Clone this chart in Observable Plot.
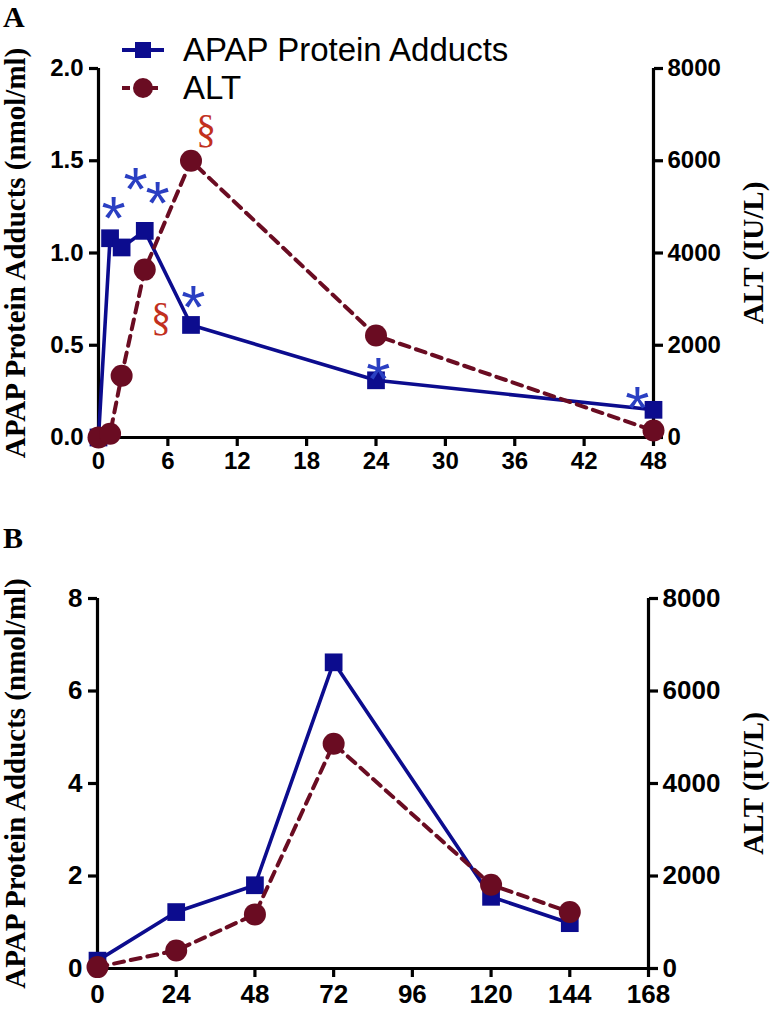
<!DOCTYPE html>
<html><head><meta charset="utf-8">
<script src="https://cdn.jsdelivr.net/npm/d3@7"></script>
<script src="https://cdn.jsdelivr.net/npm/@observablehq/plot@0.6"></script>
<style>
body{margin:0;background:#fff;}
#wrap{position:relative;width:774px;height:1010px;overflow:hidden;background:#fff;}
.plotbox{position:absolute;left:0;}
.panel{position:absolute;left:3px;font:bold 30px "Liberation Serif";line-height:1;}
.leg{position:absolute;left:121px;height:36px;font:33px "Liberation Sans";color:#000;display:flex;align-items:center;}
.leg svg{margin-right:18px;}
</style></head>
<body><div id="wrap"></div>
<script>
// ---------- Panel A data (hours post-dose) ----------
const timeA = [0, 1, 2, 4, 8, 24, 48];
const adductsA = [0.0, 1.08, 1.03, 1.12, 0.61, 0.31, 0.15];   // nmol/ml
const altA = [0, 80, 1340, 3640, 6000, 2210, 150];             // IU/L
const xTicksA = [0, 6, 12, 18, 24, 30, 36, 42, 48];
const yTicksA = [0, 0.5, 1.0, 1.5, 2.0];
const altTicksA = [0, 2000, 4000, 6000, 8000];
// significance marks (panel A)
const starTimeA = [1.3, 3.2, 5.1, 8.2, 24.2, 46.6];
const starValA = [1.28, 1.44, 1.36, 0.80, 0.41, 0.25];
const sectTimeA = [9.3, 5.4];
const sectValA = [1.67, 0.65];

// ---------- Panel B data ----------
const timeB = [0, 24, 48, 72, 120, 144];
const adductsB = [0.17, 1.22, 1.80, 6.62, 1.55, 0.98];
const altB = [30, 390, 1170, 4860, 1810, 1220];
const xTicksB = [0, 24, 48, 72, 96, 120, 144, 168];
const yTicksB = [0, 2, 4, 6, 8];
const altTicksB = [0, 2000, 4000, 6000, 8000];

const seriesNames = ["APAP Protein Adducts", "ALT"];
const yLabel = "APAP Protein Adducts (nmol/ml)";
const altLabel = "ALT (IU/L)";

const BLUE = "#0c0c8e", MAROON = "#6a0c22", STAR = "#2a3fc2", SECT = "#c2301e";
const SANS = "Liberation Sans", SERIF = "Liberation Serif";

function makePanel(o) {
  const adductRows = o.time.map((t, i) => ({t, v: o.adducts[i]}));
  const altRows = o.time.map((t, i) => ({t, v: o.alt[i] / o.altPerUnit}));
  const xMax = o.xTicks[o.xTicks.length - 1];
  const yMax = o.yTicks[o.yTicks.length - 1];
  const marks = [
    Plot.ruleX([0, xMax], {y1: 0, y2: yMax, stroke: "#000", strokeWidth: 3.2}),
    Plot.ruleY([0], {x1: 0, x2: xMax, stroke: "#000", strokeWidth: 3.2}),
    Plot.axisY({anchor: "left", ticks: o.yTicks, tickSize: 9, tickPadding: 6, strokeWidth: 3.2,
      fontSize: o.tickFont, fontWeight: "bold", fontFamily: SANS, fill: "#000",
      tickFormat: o.yFmt, label: null}),
    Plot.axisY({anchor: "right", ticks: o.yTicks, tickSize: 9, tickPadding: 5, strokeWidth: 3.2,
      fontSize: o.tickFont, fontWeight: "bold", fontFamily: SANS, fill: "#000",
      tickFormat: (d) => String(o.altTicks[o.yTicks.indexOf(d)]), label: null}),
    Plot.axisX({ticks: o.xTicks, tickSize: 9, tickPadding: o.xPad, strokeWidth: 3.2,
      fontSize: o.tickFont, fontWeight: "bold", fontFamily: SANS, fill: "#000", label: null}),
    Plot.axisY({anchor: "left", ticks: [], tickSize: 0, label: yLabel, labelAnchor: "center",
      labelArrow: "none", labelOffset: o.mL - 4, fontFamily: SERIF, fontWeight: "bold", fontSize: 29, fill: "#000"}),
    Plot.axisY({anchor: "right", ticks: [], tickSize: 0, label: altLabel, labelAnchor: "center",
      labelArrow: "none", labelOffset: o.mR - 12, fontFamily: SERIF, fontWeight: "bold", fontSize: 29, fill: "#000"}),
    Plot.line(adductRows, {x: "t", y: "v", stroke: BLUE, strokeWidth: 3.6}),
    Plot.dot(adductRows, {x: "t", y: "v", symbol: "square", r: 10, fill: BLUE, stroke: "none"}),
    Plot.line(altRows, {x: "t", y: "v", stroke: MAROON, strokeWidth: 4, strokeDasharray: "10,7"}),
    Plot.dot(altRows, {x: "t", y: "v", symbol: "circle", r: 11, fill: MAROON, stroke: "none"})
  ];
  if (o.stars) marks.push(Plot.text(o.stars, {x: "t", y: "v", text: () => "*", fill: STAR,
    fontSize: 62, fontFamily: SANS, dy: 18}));
  if (o.sects) marks.push(Plot.text(o.sects, {x: "t", y: "v", text: () => "§", fill: SECT,
    fontSize: 40, fontFamily: SERIF}));
  return Plot.plot({
    width: 774, height: o.height,
    marginLeft: o.mL, marginRight: o.mR, marginTop: o.mT, marginBottom: o.mB,
    x: {domain: [0, xMax]},
    y: {domain: [0, yMax]},
    style: {background: "transparent", overflow: "visible"},
    marks
  });
}

const wrap = document.getElementById("wrap");

const starsA = starTimeA.map((t, i) => ({t, v: starValA[i]}));
const sectsA = sectTimeA.map((t, i) => ({t, v: sectValA[i]}));

const pA = makePanel({time: timeA, adducts: adductsA, alt: altA, altPerUnit: 4000,
  xTicks: xTicksA, yTicks: yTicksA, altTicks: altTicksA, yFmt: d => d.toFixed(1),
  height: 480, mL: 98, mR: 121, mT: 68, mB: 43, tickFont: 24, xPad: 5, stars: starsA, sects: sectsA});
const boxA = document.createElement("div");
boxA.className = "plotbox"; boxA.style.top = "0px";
boxA.appendChild(pA); wrap.appendChild(boxA);

const pB = makePanel({time: timeB, adducts: adductsB, alt: altB, altPerUnit: 1000,
  xTicks: xTicksB, yTicks: yTicksB, altTicks: altTicksB, yFmt: d => String(d),
  height: 510, mL: 97, mR: 126, mT: 98, mB: 42, tickFont: 26, xPad: 7});
const boxB = document.createElement("div");
boxB.className = "plotbox"; boxB.style.top = "500px";
boxB.appendChild(pB); wrap.appendChild(boxB);

// panel letters
for (const [letter, top] of [["A", 2], ["B", 523]]) {
  const d = document.createElement("div");
  d.className = "panel"; d.style.top = top + "px"; d.textContent = letter;
  wrap.appendChild(d);
}

// legend
const legendDefs = [
  {name: seriesNames[0], color: BLUE, dash: null, shape: "square", top: 32},
  {name: seriesNames[1], color: MAROON, dash: "8,6", shape: "circle", top: 70}
];
for (const L of legendDefs) {
  const row = document.createElement("div");
  row.className = "leg"; row.style.top = L.top + "px";
  const ns = "http://www.w3.org/2000/svg";
  const s = document.createElementNS(ns, "svg");
  s.setAttribute("width", 44); s.setAttribute("height", 24);
  const ln = document.createElementNS(ns, "line");
  ln.setAttribute("x1", 1); ln.setAttribute("x2", 43); ln.setAttribute("y1", 12); ln.setAttribute("y2", 12);
  ln.setAttribute("stroke", L.color); ln.setAttribute("stroke-width", 4);
  if (L.dash) ln.setAttribute("stroke-dasharray", L.dash);
  s.appendChild(ln);
  let m;
  if (L.shape === "square") {
    m = document.createElementNS(ns, "rect");
    m.setAttribute("x", 14); m.setAttribute("y", 4); m.setAttribute("width", 16); m.setAttribute("height", 16);
  } else {
    m = document.createElementNS(ns, "circle");
    m.setAttribute("cx", 22); m.setAttribute("cy", 12); m.setAttribute("r", 10);
  }
  m.setAttribute("fill", L.color);
  s.appendChild(m);
  row.appendChild(s);
  const tx = document.createElement("span"); tx.textContent = L.name;
  row.appendChild(tx);
  wrap.appendChild(row);
}
</script>
</body></html>
